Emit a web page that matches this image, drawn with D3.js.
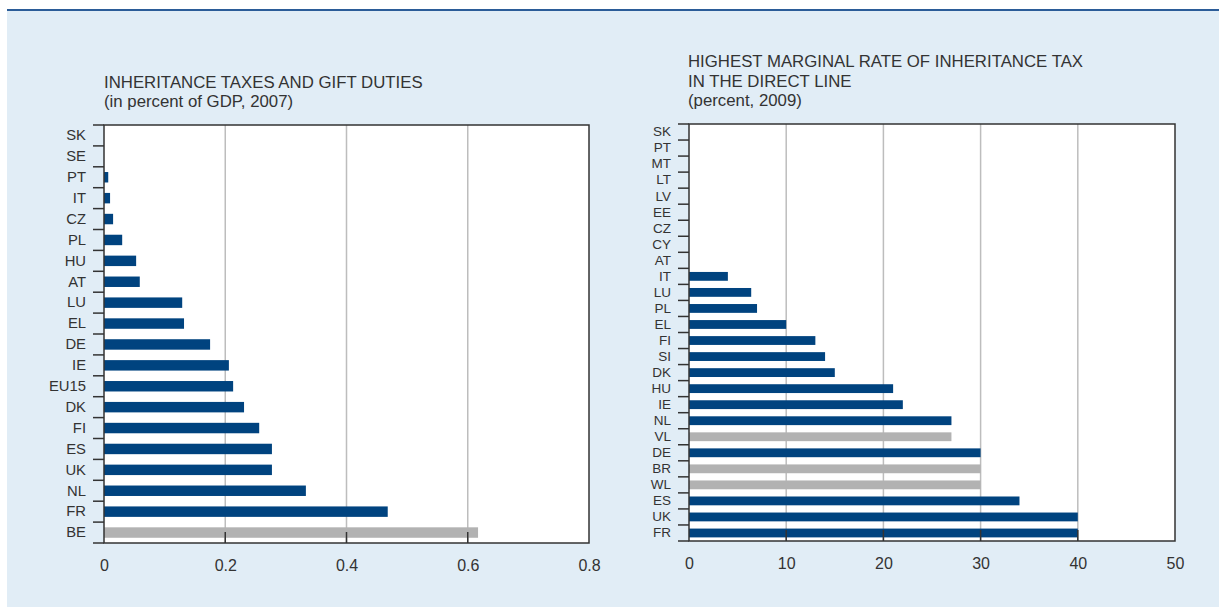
<!DOCTYPE html>
<html>
<head>
<meta charset="utf-8">
<script src="https://cdn.jsdelivr.net/npm/d3@7"></script>
<style>
  body { margin: 0; background: #fff; }
  svg text { font-family: "Liberation Sans", Arial, sans-serif; fill: #333; }
</style>
</head>
<body>
<div id="chart"></div>
<script>
//Colores fijos
const COLOR_BG = '#E1EDF6',
  COLOR_TOPLINE = '#2B5C98',
  COLOR_BAR = '#00437F',
  COLOR_BAR_GREY = '#B2B2B2',
  COLOR_GRID = '#BDBDBD',
  COLOR_AXIS = '#333333';

//Datos - panel izquierdo
const leftCategories = ['SK','SE','PT','IT','CZ','PL','HU','AT','LU','EL','DE','IE','EU15','DK','FI','ES','UK','NL','FR','BE'];
const leftValues = [0, 0, 0.007, 0.01, 0.015, 0.03, 0.053, 0.059, 0.129, 0.132, 0.175, 0.206, 0.213, 0.231, 0.256, 0.277, 0.277, 0.333, 0.468, 0.617];
const leftGrey = ['BE'];
const leftTicks = [0, 0.2, 0.4, 0.6, 0.8];
const leftTitle = ['INHERITANCE TAXES AND GIFT DUTIES', '(in percent of GDP, 2007)'];

//Datos - panel derecho
const rightCategories = ['SK','PT','MT','LT','LV','EE','CZ','CY','AT','IT','LU','PL','EL','FI','SI','DK','HU','IE','NL','VL','DE','BR','WL','ES','UK','FR'];
const rightValues = [0, 0, 0, 0, 0, 0, 0, 0, 0, 4, 6.4, 7, 10, 13, 14, 15, 21, 22, 27, 27, 30, 30, 30, 34, 40, 40];
const rightGrey = ['VL','BR','WL'];
const rightTicks = [0, 10, 20, 30, 40, 50];
const rightTitle = ['HIGHEST MARGINAL RATE OF INHERITANCE TAX', 'IN THE DIRECT LINE', '(percent, 2009)'];

const W = 1219, H = 607;

let svg = d3.select('#chart')
  .append('svg')
    .attr('width', W)
    .attr('height', H);

//Fondo
svg.append('rect').attr('x', 7).attr('y', 10).attr('width', W - 7).attr('height', H - 10).attr('fill', COLOR_BG);
svg.append('line').attr('x1', 7).attr('x2', W).attr('y1', 10).attr('y2', 10)
  .attr('stroke', COLOR_TOPLINE).attr('stroke-width', 2);

function drawPanel(cfg) {
  let g = svg.append('g').attr('transform', 'translate(' + cfg.left + ',' + cfg.top + ')');
  let width = cfg.width, height = cfg.height;

  let data = cfg.categories.map(function(c, i) { return { cat: c, value: cfg.values[i] }; });

  let x = d3.scaleLinear().domain(cfg.domain).range([0, width]);
  let y = d3.scaleBand().domain(cfg.categories).range([0, height])
    .paddingInner(cfg.padding).paddingOuter(cfg.padding / 2);

  //Titulo
  let lines = cfg.title;
  g.append('g').selectAll('text')
    .data(lines)
    .enter()
    .append('text')
      .attr('x', cfg.titleX)
      .attr('y', function(d, i) { return -18 - (lines.length - 1 - i) * 19.3; })
      .style('font-size', '16.8px')
      .text(function(d) { return d; });

  //Area blanca
  g.append('rect').attr('width', width).attr('height', height).attr('fill', '#fff');

  //Rejilla
  let inner = cfg.ticks.slice(1, -1);
  g.selectAll('.grid')
    .data(inner)
    .enter()
    .append('line')
      .attr('class', 'grid')
      .attr('x1', function(d) { return x(d); })
      .attr('x2', function(d) { return x(d); })
      .attr('y1', 0).attr('y2', height)
      .attr('stroke', COLOR_GRID).attr('stroke-width', 1.5);

  //Barras
  g.selectAll('.bars')
    .data(data)
    .enter()
    .append('rect')
      .attr('class', 'bars')
      .attr('x', x(0))
      .attr('y', function(d) { return y(d.cat); })
      .attr('width', function(d) { return x(d.value) - x(0); })
      .attr('height', y.bandwidth())
      .attr('fill', function(d) { return cfg.grey.indexOf(d.cat) >= 0 ? COLOR_BAR_GREY : COLOR_BAR; });

  //Ticks interiores del eje X
  g.selectAll('.xtick')
    .data(inner)
    .enter()
    .append('line')
      .attr('x1', function(d) { return x(d); })
      .attr('x2', function(d) { return x(d); })
      .attr('y1', height).attr('y2', height - 11)
      .attr('stroke', COLOR_AXIS).attr('stroke-width', 1.5);

  //Marco
  g.append('rect').attr('width', width).attr('height', height)
    .attr('fill', 'none').attr('stroke', COLOR_AXIS).attr('stroke-width', 1.5);

  //Separadores de categorias
  let off = y.step() * cfg.padding / 2;
  let bounds = cfg.categories.map(function(c) { return y(c) - off; }).concat([height]);
  g.selectAll('.ytick')
    .data(bounds)
    .enter()
    .append('line')
      .attr('x1', -11).attr('x2', 0)
      .attr('y1', function(d) { return d; })
      .attr('y2', function(d) { return d; })
      .attr('stroke', COLOR_AXIS).attr('stroke-width', 1.5);

  //Eje Y (etiquetas)
  let yAxis = g.append('g')
    .call(d3.axisLeft(y).tickSize(0).tickPadding(18));
  yAxis.select('.domain').remove();
  yAxis.selectAll('text').style('font-size', cfg.labelSize).attr('fill', '#333');

  //Eje X (etiquetas)
  let xAxis = g.append('g')
    .attr('transform', 'translate(0,' + height + ')')
    .call(d3.axisBottom(x).tickValues(cfg.ticks).tickFormat(cfg.format).tickSize(0).tickPadding(17));
  xAxis.select('.domain').remove();
  xAxis.selectAll('text').style('font-size', '16px').attr('fill', '#333');
}

drawPanel({
  left: 104, top: 125, width: 485, height: 418,
  categories: leftCategories, values: leftValues, grey: leftGrey,
  domain: [0, 0.8], ticks: leftTicks, format: d3.format('~g'),
  padding: 0.5, title: leftTitle, titleX: 0, labelSize: '14.8px'
});

drawPanel({
  left: 689, top: 124, width: 486, height: 417,
  categories: rightCategories, values: rightValues, grey: rightGrey,
  domain: [0, 50], ticks: rightTicks, format: d3.format('d'),
  padding: 0.45, title: rightTitle, titleX: -1, labelSize: '13.5px'
});
</script>
</body>
</html>
